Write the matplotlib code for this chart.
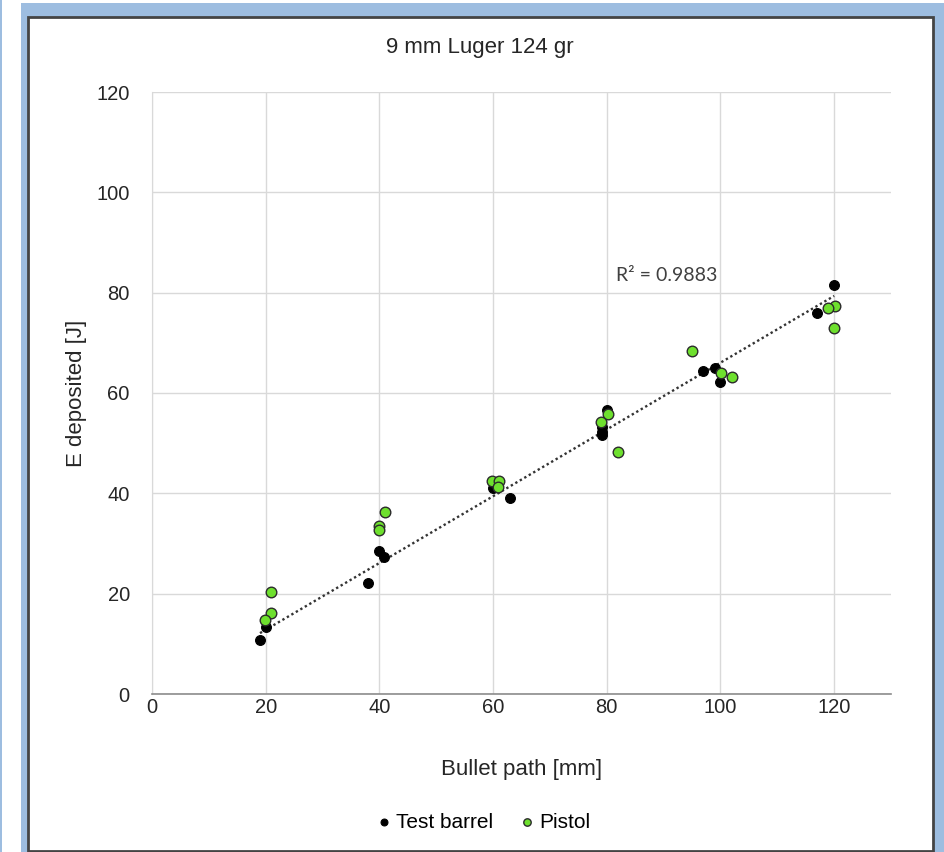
import numpy as np
import matplotlib
matplotlib.use("Agg")
import matplotlib.pyplot as plt
from matplotlib.patches import Rectangle

# Test barrel measurements: bullet path [mm] vs deposited energy [J]
barrel_path = [19.0, 20.0, 38.0, 40.0, 40.8, 60.0, 63.0, 79.2, 79.2, 79.2,
               80.0, 97.0, 99.0, 100.0, 117.0, 120.0]
barrel_energy = [10.8, 13.4, 22.1, 28.5, 27.3, 41.0, 39.0, 53.2, 52.3, 51.6,
                 56.6, 64.4, 65.0, 62.2, 75.9, 81.5]

# Pistol measurements
pistol_path = [20.9, 21.0, 19.9, 41.0, 39.9, 39.9, 59.8, 61.1, 60.9, 80.2,
               79.0, 82.0, 95.0, 100.1, 102.1, 120.2, 119.0, 120.0]
pistol_energy = [20.3, 16.1, 14.7, 36.3, 33.4, 32.7, 42.5, 42.5, 41.3, 55.8,
                 54.2, 48.2, 68.4, 64.0, 63.2, 77.3, 76.9, 73.0]

x_ticks = [0, 20, 40, 60, 80, 100, 120]
y_ticks = [0, 20, 40, 60, 80, 100, 120]
title = "9 mm Luger 124 gr"
r2_label = "R² = 0.9883"

W, H = 944, 852
fig = plt.figure(figsize=(W / 100, H / 100), dpi=100)
fig.patch.set_facecolor("white")

def px_rect(x0, y0, x1, y1, **kw):
    fig.patches.append(Rectangle((x0 / W, 1 - y1 / H), (x1 - x0) / W, (y1 - y0) / H,
                                 transform=fig.transFigure, figure=fig,
                                 zorder=-10, **kw))

blue = "#9dbde0"
# thin strip on the far left
px_rect(0, 0, 1.5, H, facecolor=blue, edgecolor="none")
# blue frame behind the chart panel
px_rect(21, 3, W, H, facecolor=blue, edgecolor="none")
# chart panel with a dark border
px_rect(28, 17, 933, 851, facecolor="white", edgecolor="#444444", linewidth=2.0)

font = "Liberation Sans"
ax = fig.add_axes([152 / W, 1 - 694 / H, (891 - 152) / W, (694 - 92) / H])
ax.set_facecolor("none")
ax.set_xlim(0, 130)
ax.set_ylim(0, 120)
ax.set_xticks(x_ticks)
ax.set_yticks(y_ticks)
ax.grid(True, color="#d9d9d9", linewidth=1.0)
ax.set_axisbelow(True)
for side in ("top", "right"):
    ax.spines[side].set_visible(False)
ax.spines["left"].set_color("#d9d9d9")
ax.spines["bottom"].set_color("#8c8c8c")
ax.spines["bottom"].set_linewidth(1.2)
ax.tick_params(length=0, labelsize=14.5, labelcolor="#262626")
ax.tick_params(axis="x", pad=3)
ax.tick_params(axis="y", pad=16)
for lab in ax.get_xticklabels() + ax.get_yticklabels():
    lab.set_fontfamily(font)

# linear trendline through the test barrel points
coef = np.polyfit(barrel_path, barrel_energy, 1)
xl = np.array([min(barrel_path), max(barrel_path)])
ax.plot(xl, np.polyval(coef, xl), linestyle=(0, (1, 1.2)), color="#333333",
        linewidth=1.7, zorder=2)

ax.scatter(barrel_path, barrel_energy, s=50, color="black", edgecolor="black",
           linewidth=0.8, zorder=3, label="Test barrel")
ax.scatter(pistol_path, pistol_energy, s=58, color="#6ee02e", edgecolor="#2b2b2b",
           linewidth=1.0, zorder=4, label="Pistol")

ax.text(90.6, 83.5, r2_label, ha="center", va="center", fontsize=14,
        family="Lato", color="#404040")

ax.set_xlabel("Bullet path [mm]", fontsize=16, family=font, color="#262626", labelpad=30)
ax.set_ylabel("E deposited [J]", fontsize=16, family=font, color="#262626", labelpad=7)

fig.text(480 / W, 1 - 47 / H, title, ha="center", va="center", fontsize=16,
         family=font, color="#262626")

leg = fig.legend(handles=ax.collections, labels=["Test barrel", "Pistol"],
                 loc="center", bbox_to_anchor=(482 / W, 1 - 822 / H), ncol=2,
                 frameon=False, prop={"family": font, "size": 15},
                 markerscale=0.7, handletextpad=0.1, columnspacing=1.1,
                 handlelength=1.0)

fig.savefig("out.png", dpi=100, facecolor=fig.get_facecolor())
